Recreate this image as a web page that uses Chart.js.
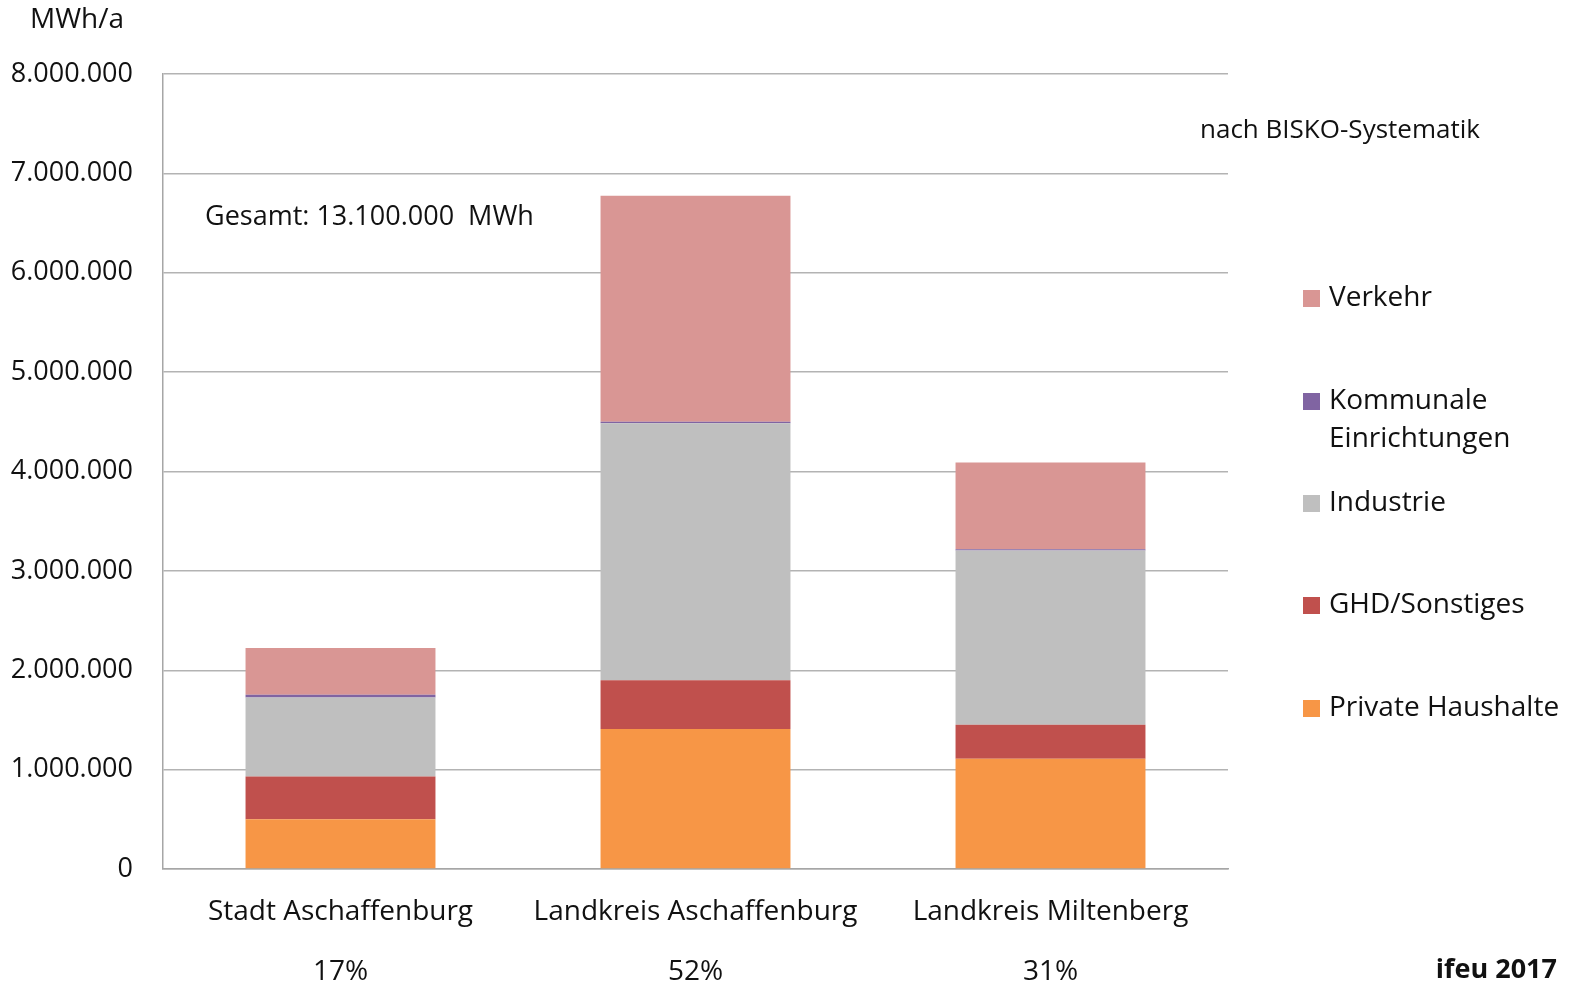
<!DOCTYPE html>
<html>
<head>
<meta charset="utf-8">
<script src="https://cdn.jsdelivr.net/npm/chart.js@4/dist/chart.umd.min.js"></script>
<style>
  html, body { margin: 0; padding: 0; background: #ffffff; }
  #wrap { width: 1572px; height: 987px; position: relative; }
</style>
</head>
<body>
<div id="wrap"><canvas id="c" width="1572" height="987"></canvas></div>
<script>
// Endenergieverbrauch nach Sektoren (MWh/a)
const regions = ['Stadt Aschaffenburg', 'Landkreis Aschaffenburg', 'Landkreis Miltenberg'];
const privateHaushalte = [500000, 1410000, 1109000];
const ghdSonstiges = [430000, 489000, 342000];
const industrie = [795000, 2586000, 1755000];
const kommunaleEinrichtungen = [28000, 15000, 12000];
const verkehr = [472000, 2274000, 872000];
const yTickValues = [0, 1000000, 2000000, 3000000, 4000000, 5000000, 6000000, 7000000, 8000000];
const totalLabel = 'Gesamt: 13.100.000  MWh';

const FONT = '"Open Sans", "DejaVu Sans", sans-serif';
const TEXT = '#111111';

function fmtDE(v) {
  return String(Math.round(v)).replace(/\B(?=(\d{3})+(?!\d))/g, '.');
}

// Anteil jeder Region am Gesamtverbrauch
const regionTotals = regions.map((_, i) =>
  privateHaushalte[i] + ghdSonstiges[i] + industrie[i] + kommunaleEinrichtungen[i] + verkehr[i]);
const grandTotal = regionTotals.reduce((a, b) => a + b, 0);
const shares = regionTotals.map(t => Math.round(t / grandTotal * 100) + '%');

const datasets = [
  { label: 'Private Haushalte', data: privateHaushalte, backgroundColor: '#F79646' },
  { label: 'GHD/Sonstiges', data: ghdSonstiges, backgroundColor: '#C0504D' },
  { label: 'Industrie', data: industrie, backgroundColor: '#BFBFBF' },
  { label: ['Kommunale', 'Einrichtungen'], data: kommunaleEinrichtungen, backgroundColor: '#8064A2' },
  { label: 'Verkehr', data: verkehr, backgroundColor: '#D99694' }
].map(d => Object.assign(d, { barPercentage: 0.535, categoryPercentage: 1.0, borderWidth: 0 }));

// Legende und Beschriftungen rechts/oben
const annotations = {
  id: 'annotations',
  afterDraw(chart) {
    const ctx = chart.ctx;
    ctx.save();
    ctx.fillStyle = TEXT;
    ctx.textBaseline = 'middle';
    ctx.textAlign = 'left';
    ctx.font = '28px ' + FONT;
    ctx.fillText('MWh/a', 30, 20);
    ctx.font = '27px ' + FONT;
    ctx.fillText(totalLabel, 205, 217);
    ctx.font = '26px ' + FONT;
    ctx.fillText('nach BISKO-Systematik', 1200, 131);

    // Legende (oberste Serie zuerst)
    ctx.font = '28px ' + FONT;
    const legendY = [298, 401, 503, 605, 708];
    const items = chart.data.datasets.slice().reverse();
    items.forEach((ds, k) => {
      const y = legendY[k];
      ctx.fillStyle = ds.backgroundColor;
      ctx.fillRect(1303, y - 8, 17, 17);
      ctx.fillStyle = TEXT;
      const lines = Array.isArray(ds.label) ? ds.label : [ds.label];
      lines.forEach((ln, j) => ctx.fillText(ln, 1329, y + j * 38));
    });

    ctx.font = 'bold 27px ' + FONT;
    ctx.textAlign = 'right';
    ctx.fillText('ifeu 2017', 1557, 970);
    ctx.restore();
  }
};

new Chart(document.getElementById('c'), {
  type: 'bar',
  data: { labels: regions.map((r, i) => [r, shares[i]]), datasets },
  options: {
    responsive: false,
    animation: false,
    devicePixelRatio: 1,
    layout: { padding: { top: 74, right: 344, left: 0, bottom: 0 } },
    plugins: { legend: { display: false }, tooltip: { enabled: false } },
    scales: {
      x: {
        stacked: true,
        grid: { display: false, drawTicks: false },
        border: { display: true, color: '#A6A6A6', width: 1.5 },
        ticks: {
          color: TEXT,
          font: { family: FONT, size: 28, lineHeight: 60 / 28 },
          padding: 13,
          maxRotation: 0
        },
        afterFit(scale) { scale.height = 118; }
      },
      y: {
        stacked: true,
        min: 0,
        max: 8000000,
        afterBuildTicks(scale) { scale.ticks = yTickValues.map(v => ({ value: v })); },
        grid: { color: '#B3B3B3', lineWidth: 1.5, drawTicks: false },
        border: { display: true, color: '#A6A6A6', width: 1.5 },
        ticks: {
          color: TEXT,
          font: { family: FONT, size: 27 },
          padding: 30,
          callback: v => fmtDE(v)
        },
        afterFit(scale) { scale.width = 163; }
      }
    }
  },
  plugins: [annotations]
});
</script>
</body>
</html>
